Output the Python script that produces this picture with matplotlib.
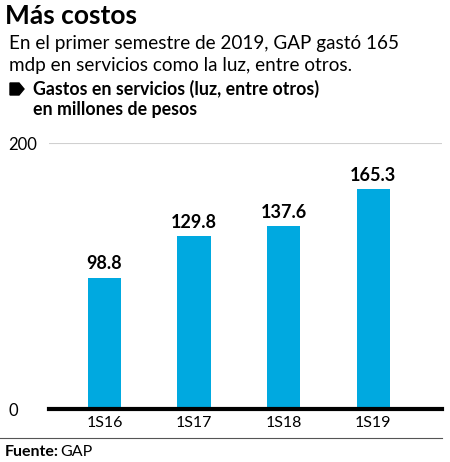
import matplotlib.pyplot as plt
from matplotlib.patches import Polygon
from matplotlib.lines import Line2D

periodos = ['1S16', '1S17', '1S18', '1S19']
gastos = [98.8, 129.8, 137.6, 165.3]
ticks_y = [0, 200]

azul = '#00a9e0'
plt.rcParams['font.family'] = ['Lato', 'DejaVu Sans']

W, H = 450, 462
fig = plt.figure(figsize=(W / 100, H / 100), dpi=100)

def fx(px):
    return px / W

def fy(py):
    return 1 - py / H

# textos de cabecera
fig.text(fx(5), fy(16), 'Más costos', fontsize=19, fontweight='bold', va='center', ha='left')
fig.text(fx(9), fy(44), 'En el primer semestre de 2019, GAP gastó 165', fontsize=13.6, va='center', ha='left')
fig.text(fx(9), fy(66), 'mdp en servicios como la luz, entre otros.', fontsize=13.6, va='center', ha='left')
fig.text(fx(33), fy(89), 'Gastos en servicios (luz, entre otros)', fontsize=12.8, fontweight='bold', va='center', ha='left')
fig.text(fx(33), fy(110), 'en millones de pesos', fontsize=12.8, fontweight='bold', va='center', ha='left')

# viñeta
fig.patches.append(Polygon([(fx(10), fy(83)), (fx(19), fy(83)), (fx(24), fy(89)),
                            (fx(19), fy(95)), (fx(10), fy(95))],
                           closed=True, color='black', transform=fig.transFigure))

ax = fig.add_axes([fx(49), fy(409), fx(442) - fx(49), fy(143) - fy(409)])
x = range(len(periodos))
ax.bar(x, gastos, width=0.37, color=azul, zorder=2)
for i, v in enumerate(gastos):
    ax.text(i, v + 4, f'{v:.1f}', ha='center', va='bottom', fontsize=13, fontweight='bold')

ax.set_xlim(-0.62, 3.77)
ax.set_ylim(0, 200)
ax.axhline(200, color='#d0d0d0', lw=0.8, zorder=1)
ax.axhline(0, color='black', lw=3, zorder=3, clip_on=False)
for s in ax.spines.values():
    s.set_visible(False)
ax.set_xticks(list(x))
ax.set_xticklabels(periodos, fontsize=11.5)
ax.set_yticks(ticks_y)
ax.set_yticklabels([str(t) for t in ticks_y], fontsize=12, ha='left')
ax.tick_params(axis='both', length=0)
ax.tick_params(axis='y', pad=29.5)
ax.tick_params(axis='x', pad=5)

# línea de la fuente
fig.add_artist(Line2D([0, fx(442)], [fy(438), fy(438)], color='#555555', lw=0.8))
fig.text(fx(5), fy(452), 'Fuente:', fontsize=11.5, fontweight='bold', va='center', ha='left')
fig.text(fx(60), fy(452), 'GAP', fontsize=11.5, va='center', ha='left')

fig.savefig('out.png', dpi=100)
